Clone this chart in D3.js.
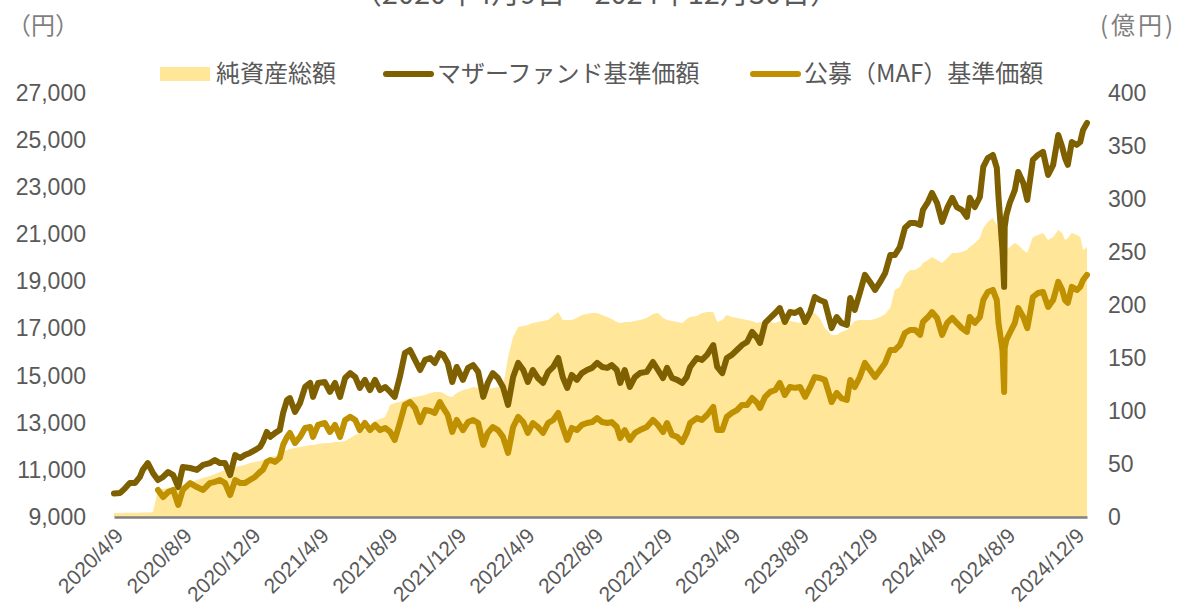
<!DOCTYPE html>
<html>
<head>
<meta charset="utf-8">
<script src="https://cdn.jsdelivr.net/npm/d3@7"></script>
<style>
  body { margin: 0; background: #fff; }
  svg { display: block; }
</style>
</head>
<body>
<div id="chart"></div>
<script>
// dates of the readings (shared by all three series)
const dates = [
  "2020-04-09","2020-04-20","2020-04-29","2020-05-07","2020-05-16","2020-05-25","2020-05-30","2020-06-08","2020-06-17","2020-06-26",
  "2020-07-05","2020-07-14","2020-07-23","2020-08-01","2020-08-09","2020-08-22","2020-09-03","2020-09-14","2020-09-26","2020-10-05",
  "2020-10-14","2020-10-23","2020-11-01","2020-11-10","2020-11-19","2020-11-27","2020-12-06","2020-12-15","2020-12-24","2020-12-29",
  "2021-01-05","2021-01-11","2021-01-20","2021-01-28","2021-02-03","2021-02-10","2021-02-15","2021-02-24","2021-03-05","2021-03-14",
  "2021-03-23","2021-03-28","2021-04-06","2021-04-18","2021-04-27","2021-05-06","2021-05-15","2021-05-24","2021-06-02","2021-06-11",
  "2021-06-19","2021-06-28","2021-07-07","2021-07-16","2021-07-25","2021-08-03","2021-08-12","2021-08-20","2021-08-29","2021-09-07",
  "2021-09-16","2021-09-25","2021-10-04","2021-10-13","2021-10-22","2021-10-30","2021-11-08","2021-11-14","2021-11-22","2021-11-30",
  "2021-12-08","2021-12-19","2021-12-28","2022-01-06","2022-01-15","2022-01-24","2022-02-01","2022-02-10","2022-02-19","2022-02-28",
  "2022-03-09","2022-03-18","2022-03-27","2022-04-05","2022-04-13","2022-04-22","2022-05-01","2022-05-10","2022-05-19","2022-05-28",
  "2022-06-06","2022-06-14","2022-06-22","2022-06-30","2022-07-09","2022-07-18","2022-07-27","2022-08-05","2022-08-14","2022-08-23",
  "2022-09-01","2022-09-09","2022-09-18","2022-09-24","2022-10-02","2022-10-11","2022-10-20","2022-10-29","2022-11-10","2022-11-21",
  "2022-11-30","2022-12-09","2022-12-16","2022-12-25","2023-01-03","2023-01-12","2023-01-20","2023-01-26","2023-02-07","2023-02-16",
  "2023-02-25","2023-03-08","2023-03-15","2023-03-24","2023-04-01","2023-04-10","2023-04-19","2023-04-28","2023-05-07","2023-05-16",
  "2023-05-25","2023-05-30","2023-06-08","2023-06-17","2023-06-26","2023-07-04","2023-07-13","2023-07-22","2023-07-31","2023-08-09",
  "2023-08-18","2023-08-27","2023-09-04","2023-09-13","2023-09-22","2023-10-04","2023-10-13","2023-10-21","2023-10-31","2023-11-06",
  "2023-11-14","2023-11-23","2023-12-02","2023-12-11","2023-12-20","2023-12-29","2024-01-07","2024-01-16","2024-01-24","2024-02-02",
  "2024-02-11","2024-02-20","2024-02-29","2024-03-09","2024-03-14","2024-03-23","2024-03-30","2024-04-08","2024-04-17","2024-04-26",
  "2024-05-05","2024-05-13","2024-05-22","2024-05-31","2024-06-05","2024-06-14","2024-06-23","2024-06-29","2024-07-07","2024-07-16",
  "2024-07-23","2024-07-26","2024-08-02","2024-08-05","2024-08-06","2024-08-09","2024-08-15","2024-08-24","2024-08-30","2024-09-08",
  "2024-09-15","2024-09-20","2024-09-25","2024-10-04","2024-10-13","2024-10-22","2024-10-31","2024-11-09","2024-11-16","2024-11-21",
  "2024-11-26","2024-12-03","2024-12-12","2024-12-18","2024-12-23","2024-12-30"
];

// マザーファンド基準価額 (円)
const motherNav = [
  10000,10020,10230,10440,10440,10700,11000,11290,10870,10570,
  10700,10910,10780,10270,11120,11080,11000,11210,11290,11420,
  11290,11290,10780,11630,11510,11630,11720,11840,11970,12180,
  12610,12400,12570,12690,13420,13970,14050,13460,13840,14520,
  14690,14100,14690,14730,14310,14690,14100,14900,15110,14940,
  14480,14820,14390,14820,14390,14520,14310,14100,14940,15960,
  16090,15670,15240,15670,15750,15540,15960,15880,15540,14730,
  15370,14820,15330,15450,15160,14100,14690,15110,14900,14520,
  13760,14940,15540,15240,14730,15240,14900,14690,15160,15370,
  15750,14940,14480,15030,14820,15110,15240,15330,15540,15370,
  15330,15450,15240,14690,15240,14520,14940,15110,15160,15580,
  15240,14900,15330,14900,14820,14690,14940,15370,15750,15670,
  15880,16300,15370,15110,15750,15880,16090,16300,16430,16860,
  16600,16390,17240,17450,17660,17870,17280,17700,17660,17790,
  17280,17700,18340,18210,18130,17020,17490,17240,17150,18300,
  17790,18510,19280,18980,18640,18980,19360,20120,20120,20460,
  21270,21480,21480,21400,22040,22380,22760,22330,21530,22120,
  22550,22160,22040,21740,22550,22160,22590,23860,24240,24370,
  23820,22590,20340,18770,21310,21820,22330,22880,23650,23180,
  22460,23310,24160,24370,24500,23520,23950,25220,24710,24240,
  23950,24920,24800,24920,25430,25730
];

// 公募（MAF）基準価額 (円) — starts late June 2020
const mafNav = [
  null,null,null,null,null,null,null,null,null,10150,
  9850,10060,10150,9510,10150,10440,10270,10150,10440,10490,
  10570,10440,9930,10570,10440,10440,10570,10700,10910,11000,
  11340,11420,11340,11510,12060,12400,12570,12140,12400,12780,
  12820,12400,12910,12990,12610,12910,12400,13120,13250,13120,
  12690,12990,12690,12910,12690,12780,12610,12270,12990,13760,
  13880,13630,13030,13540,13500,13420,13880,13630,13330,12610,
  13120,12690,13030,13120,12990,12060,12570,12820,12690,12400,
  11720,12820,13250,13030,12570,12990,12820,12570,12990,13120,
  13420,12820,12270,12780,12690,12910,12990,13030,13200,13030,
  12990,13030,12820,12350,12690,12270,12570,12690,12820,13120,
  12910,12610,12990,12480,12400,12180,12570,12990,13200,13120,
  13330,13670,12690,12690,13250,13420,13540,13760,13760,14050,
  13840,13630,14100,14310,14390,14690,14180,14520,14480,14520,
  14100,14520,14940,14900,14820,13880,14270,14050,13970,14820,
  14520,14940,15540,15240,14940,15240,15540,16090,16090,16300,
  16810,16940,16940,16730,17280,17490,17700,17450,16730,17240,
  17450,17240,17020,16860,17490,17240,17490,18210,18550,18640,
  18210,17240,16090,14310,16180,16520,16810,17240,17870,17490,
  17020,17660,18340,18510,18550,17920,18210,18980,18640,18210,
  18090,18770,18640,18770,19060,19280
];

// 純資産総額 (億円)
const netAssets = [
  3.8,3.8,3.9,3.9,4.0,4.1,4.2,4.3,4.4,25.5,
  26.4,27.4,28.3,29.2,30.2,32.1,34.9,36.8,38.7,40.6,
  42.5,44.3,46.2,47.2,48.1,49.1,50.9,51.9,52.8,53.8,
  54.7,56.6,57.5,58.5,61.3,63.2,64.2,65.1,66.0,67.0,
  67.9,67.9,68.9,69.8,69.8,70.8,70.8,71.7,74.5,77.4,
  79.2,82.1,85.8,90.6,92.5,94.3,105.7,107.5,108.5,110.4,
  112.3,113.2,114.2,115.1,117.0,117.9,117.9,117.0,114.2,113.2,
  117.0,119.8,120.8,122.6,121.7,119.8,120.8,121.7,122.6,122.6,
  150.9,169.8,179.2,180.2,181.1,183.0,184.0,184.9,185.8,189.6,
  193.4,185.8,185.8,185.8,187.7,190.6,191.5,192.5,192.5,190.6,
  188.7,186.8,184.0,183.0,184.0,184.0,184.9,185.8,187.7,191.5,
  192.5,187.7,185.8,184.9,184.0,183.0,186.8,188.7,189.6,192.5,
  193.4,193.4,184.0,185.8,190.6,188.7,187.7,186.8,185.8,184.9,
  183.0,184.0,183.0,184.0,183.0,184.9,185.8,184.9,184.0,183.0,
  187.7,190.6,192.5,187.7,178.3,171.7,171.7,174.5,176.4,180.2,
  184.9,185.8,185.8,185.8,186.8,188.7,191.5,197.2,214.2,217.0,
  228.3,233.0,233.0,235.8,239.6,242.4,245.3,242.4,239.6,244.3,
  249.1,249.1,250.0,251.9,254.7,258.5,263.2,272.6,278.3,282.1,
  275.5,270.8,261.3,251.9,249.1,251.9,254.7,258.5,256.6,251.9,
  249.1,256.6,264.2,266.0,267.9,261.3,264.2,270.8,267.9,261.3,
  263.2,267.9,266.0,264.2,251.9,254.7
];

const xTickDates = [
  "2020-04-09","2020-08-09","2020-12-09","2021-04-09","2021-08-09","2021-12-09","2022-04-09","2022-08-09",
  "2022-12-09","2023-04-09","2023-08-09","2023-12-09","2024-04-09","2024-08-09","2024-12-09"
];
const leftTicks = [9000, 11000, 13000, 15000, 17000, 19000, 21000, 23000, 25000, 27000];
const rightTicks = [0, 50, 100, 150, 200, 250, 300, 350, 400];
const seriesNames = ["純資産総額", "マザーファンド基準価額", "公募（MAF）基準価額"];
const periodTitle = "（2020年4月9日～2024年12月30日）";

const W = 1179, H = 611;
const plotL = 114, plotR = 1087, plotT = 93, plotB = 517;
const numFont = "'Liberation Sans', Arial, sans-serif";
const jpFont = "'Noto Sans CJK JP', 'Noto Sans', sans-serif";
const textGray = "#595959";
const colArea = "#FFE699", colMother = "#7F6000", colMaf = "#BF9000";

const parse = d3.timeParse("%Y-%m-%d");
const rows = dates.map((d, i) => ({
  date: parse(d), mother: motherNav[i], maf: mafNav[i], assets: netAssets[i]
}));

const svg = d3.select("#chart").append("svg")
  .attr("width", W).attr("height", H);
svg.append("rect").attr("width", W).attr("height", H).attr("fill", "#fff");

const x = d3.scaleTime()
  .domain([parse("2020-04-09"), parse("2024-12-30")])
  .range([plotL, plotR]);
const yL = d3.scaleLinear().domain([9000, 27000]).range([plotB, plotT]);
const yR = d3.scaleLinear().domain([0, 400]).range([plotB, plotT]);

// net assets area (right axis)
svg.append("path")
  .datum(rows)
  .attr("fill", colArea)
  .attr("d", d3.area().x(d => x(d.date)).y0(yR(0)).y1(d => yR(d.assets)));

// x axis with baseline
const xAxis = svg.append("g")
  .attr("transform", `translate(0,${plotB})`)
  .call(d3.axisBottom(x)
    .tickValues(xTickDates.map(parse))
    .tickSize(0).tickSizeOuter(0)
    .tickFormat(d3.timeFormat("%Y/%-m/%-d")));
xAxis.select(".domain").attr("stroke", "#808080").attr("stroke-width", 2.5);
xAxis.selectAll("text")
  .attr("font-family", numFont).attr("font-size", 21).attr("fill", textGray)
  .attr("text-anchor", "end")
  .attr("dy", null).attr("y", 0)
  .attr("transform", "translate(10,20) rotate(-45)");

// lines
const lineMother = d3.line().x(d => x(d.date)).y(d => yL(d.mother));
const lineMaf = d3.line().defined(d => d.maf != null).x(d => x(d.date)).y(d => yL(d.maf));
svg.append("path").datum(rows)
  .attr("fill", "none").attr("stroke", colMother).attr("stroke-width", 6)
  .attr("stroke-linejoin", "round").attr("stroke-linecap", "round")
  .attr("d", lineMother);
svg.append("path").datum(rows)
  .attr("fill", "none").attr("stroke", colMaf).attr("stroke-width", 6)
  .attr("stroke-linejoin", "round").attr("stroke-linecap", "round")
  .attr("d", lineMaf);

// y axes
const axL = svg.append("g").attr("transform", `translate(${plotL},0)`)
  .call(d3.axisLeft(yL).tickValues(leftTicks).tickSize(0).tickPadding(28).tickFormat(d3.format(",")));
const axR = svg.append("g").attr("transform", `translate(${plotR},0)`)
  .call(d3.axisRight(yR).tickValues(rightTicks).tickSize(0).tickPadding(21));
[axL, axR].forEach(a => {
  a.select(".domain").remove();
  a.selectAll("text").attr("font-family", numFont).attr("font-size", 23).attr("fill", textGray);
});

// unit labels and (cut-off) period title
svg.append("text").attr("x", 43).attr("y", 34).attr("text-anchor", "middle")
  .attr("font-family", jpFont).attr("font-size", 24).attr("fill", "#7f7f7f").text("（円）");
svg.append("text").attr("x", 1138).attr("y", 34).attr("text-anchor", "middle")
  .attr("font-family", jpFont).attr("font-size", 24).attr("letter-spacing", 3).attr("fill", "#7f7f7f").text("(億円)");
svg.append("text").attr("x", 596).attr("y", 4).attr("text-anchor", "middle")
  .attr("font-family", jpFont).attr("font-size", 29).attr("fill", textGray).text(periodTitle);

// legend
const legendX = [160, 383, 750];
const lg = svg.append("g").attr("font-family", jpFont).attr("font-size", 24).attr("fill", textGray);
seriesNames.forEach((name, i) => {
  const g = lg.append("g").attr("transform", `translate(${legendX[i]},74)`);
  if (i === 0) {
    g.append("rect").attr("x", 0).attr("y", -7).attr("width", 50).attr("height", 14).attr("fill", colArea);
  } else {
    g.append("line").attr("x1", 3).attr("x2", 48).attr("y1", 0).attr("y2", 0)
      .attr("stroke", i === 1 ? colMother : colMaf).attr("stroke-width", 6).attr("stroke-linecap", "round");
  }
  g.append("text").attr("x", i === 0 ? 56 : 54).attr("y", 8).text(name);
});
</script>
</body>
</html>
